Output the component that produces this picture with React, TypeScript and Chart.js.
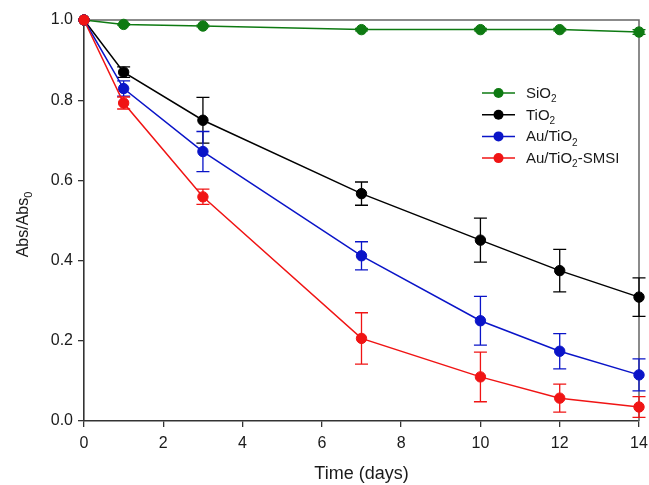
import React, { useEffect, useRef } from "react";
import { Chart, registerables } from "chart.js";

Chart.register(...registerables);

// Sampling days
const days = [0, 1, 3, 7, 10, 12, 14];

// Normalised absorbance (Abs/Abs0) per material
const sio2 = [1.0, 0.989, 0.985, 0.976, 0.976, 0.976, 0.97];
const tio2 = [1.0, 0.87, 0.75, 0.567, 0.451, 0.375, 0.309];
const auTio2 = [1.0, 0.829, 0.672, 0.412, 0.25, 0.174, 0.115];
const auTio2Smsi = [1.0, 0.793, 0.559, 0.206, 0.11, 0.057, 0.035];

// Standard deviations
const sio2Err = [0, 0.002, 0.002, 0.003, 0.003, 0.003, 0.006];
const tio2Err = [0, 0.013, 0.057, 0.029, 0.055, 0.053, 0.048];
const auTio2Err = [0, 0.019, 0.05, 0.035, 0.061, 0.044, 0.04];
const auTio2SmsiErr = [0, 0.015, 0.019, 0.064, 0.062, 0.035, 0.026];

// Legend labels: [main text, subscript, trailing text]
const legendLabels: [string, string, string][] = [
  ["SiO", "2", ""],
  ["TiO", "2", ""],
  ["Au/TiO", "2", ""],
  ["Au/TiO", "2", "-SMSI"],
];

const xTicks = [0, 2, 4, 6, 8, 10, 12, 14];
const yTicks = [0, 0.2, 0.4, 0.6, 0.8, 1.0];

const colors = ["#0e7a12", "#000000", "#0a14c8", "#f01414"];
const FONT = "'Liberation Sans', Arial, sans-serif";

const series = [sio2, tio2, auTio2, auTio2Smsi];
const errors = [sio2Err, tio2Err, auTio2Err, auTio2SmsiErr];

function drawSubText(
  ctx: CanvasRenderingContext2D,
  parts: [string, string, string],
  x: number,
  y: number,
  size: number,
  align: "left" | "center"
) {
  const [a, sub, b] = parts;
  const subSize = Math.round(size * 0.68);
  ctx.font = `${size}px ${FONT}`;
  const wa = ctx.measureText(a).width;
  const wb = ctx.measureText(b).width;
  ctx.font = `${subSize}px ${FONT}`;
  const ws = ctx.measureText(sub).width;
  const total = wa + ws + wb;
  let cx = align === "center" ? x - total / 2 : x;
  ctx.textAlign = "left";
  ctx.textBaseline = "alphabetic";
  ctx.font = `${size}px ${FONT}`;
  ctx.fillText(a, cx, y);
  cx += wa;
  ctx.font = `${subSize}px ${FONT}`;
  ctx.fillText(sub, cx, y + size * 0.28);
  cx += ws;
  ctx.font = `${size}px ${FONT}`;
  ctx.fillText(b, cx, y);
}

const decorPlugin = {
  id: "decor",
  beforeDatasetsDraw(chart: any) {
    const { ctx, chartArea } = chart;
    ctx.save();
    ctx.strokeStyle = "#666666";
    ctx.lineWidth = 1.5;
    ctx.beginPath();
    ctx.moveTo(chartArea.left, chartArea.top);
    ctx.lineTo(chartArea.right, chartArea.top);
    ctx.lineTo(chartArea.right, chartArea.bottom);
    ctx.stroke();
    ctx.restore();
  },
  beforeDatasetDraw(chart: any, args: any) {
    const i = args.index;
    const err = errors[i];
    if (!err) return;
    const { ctx, scales } = chart;
    const xs = scales.x;
    const ys = scales.y;
    ctx.save();
    ctx.strokeStyle = colors[i];
    ctx.lineWidth = 1.3;
    days.forEach((d, k) => {
      const e = err[k];
      if (!e) return;
      const px = xs.getPixelForValue(d);
      const yt = ys.getPixelForValue(series[i][k] + e);
      const yb = ys.getPixelForValue(series[i][k] - e);
      ctx.beginPath();
      ctx.moveTo(px, yt);
      ctx.lineTo(px, yb);
      ctx.moveTo(px - 6.5, yt);
      ctx.lineTo(px + 6.5, yt);
      ctx.moveTo(px - 6.5, yb);
      ctx.lineTo(px + 6.5, yb);
      ctx.stroke();
    });
    ctx.restore();
  },
  afterDraw(chart: any) {
    const { ctx, chartArea } = chart;
    ctx.save();
    ctx.fillStyle = "#1a1a1a";
    // x-axis title
    ctx.font = `18px ${FONT}`;
    ctx.textAlign = "center";
    ctx.textBaseline = "alphabetic";
    ctx.fillText("Time (days)", (chartArea.left + chartArea.right) / 2, 479);
    // y-axis title, rotated
    ctx.save();
    ctx.translate(28, (chartArea.top + chartArea.bottom) / 2 + 4);
    ctx.rotate(-Math.PI / 2);
    drawSubText(ctx, ["Abs/Abs", "0", ""], 0, 0, 16, "center");
    ctx.restore();
    // legend
    const lx0 = 482;
    const lx1 = 515;
    const tx = 526;
    legendLabels.forEach((lab, i) => {
      const y = 93 + i * 21.7;
      ctx.strokeStyle = colors[i];
      ctx.lineWidth = 1.5;
      ctx.beginPath();
      ctx.moveTo(lx0, y);
      ctx.lineTo(lx1, y);
      ctx.stroke();
      ctx.fillStyle = colors[i];
      ctx.beginPath();
      ctx.arc((lx0 + lx1) / 2, y, 5, 0, Math.PI * 2);
      ctx.fill();
      ctx.fillStyle = "#1a1a1a";
      drawSubText(ctx, lab, tx, y + 5, 15, "left");
    });
    ctx.restore();
  },
};

export default function App() {
  const ref = useRef<HTMLCanvasElement | null>(null);

  useEffect(() => {
    if (!ref.current) return;
    const names = ["SiO2", "TiO2", "Au/TiO2", "Au/TiO2-SMSI"];
    const chart = new Chart(ref.current, {
      type: "line",
      data: {
        datasets: series.map((s, i) => ({
          label: names[i],
          data: days.map((d, k) => ({ x: d, y: s[k] })),
          borderColor: colors[i],
          backgroundColor: colors[i],
          pointBackgroundColor: colors[i],
          pointBorderColor: colors[i],
          pointRadius: 5.2,
          pointBorderWidth: 1,
          borderWidth: 1.5,
          tension: 0,
          clip: false as any,
          order: 3 - i,
        })),
      },
      options: {
        responsive: false,
        animation: false,
        events: [],
        layout: { padding: { top: 20, right: 10, left: 0, bottom: 0 } },
        plugins: {
          legend: { display: false },
          tooltip: { enabled: false },
        },
        scales: {
          x: {
            type: "linear",
            min: 0,
            max: 14,
            afterBuildTicks: (s: any) => {
              s.ticks = xTicks.map((v) => ({ value: v }));
            },
            afterFit: (s: any) => {
              s.height = 64;
              s.paddingLeft = 0;
              s.paddingRight = 0;
            },
            ticks: {
              color: "#1a1a1a",
              font: { size: 16, family: FONT },
              padding: 7,
              maxRotation: 0,
              callback: (v: any) => String(v),
            },
            grid: {
              drawOnChartArea: false,
              drawTicks: true,
              tickLength: 6,
              color: "#333333",
              lineWidth: 1.3,
            },
            border: { display: true, color: "#333333", width: 1.6 },
          },
          y: {
            type: "linear",
            min: 0,
            max: 1,
            afterBuildTicks: (s: any) => {
              s.ticks = yTicks.map((v) => ({ value: v }));
            },
            afterFit: (s: any) => {
              s.width = 84;
              s.paddingTop = 0;
              s.paddingBottom = 0;
            },
            ticks: {
              color: "#1a1a1a",
              font: { size: 16, family: FONT },
              padding: 5,
              callback: (v: any) => Number(v).toFixed(1),
            },
            grid: {
              drawOnChartArea: false,
              drawTicks: true,
              tickLength: 6,
              color: "#333333",
              lineWidth: 1.3,
            },
            border: { display: true, color: "#333333", width: 1.6 },
          },
        },
      },
      plugins: [decorPlugin],
    });
    return () => chart.destroy();
  }, []);

  return (
    <div style={{ position: "fixed", left: 0, top: 0, width: 649, height: 485, background: "#fff" }}>
      <canvas ref={ref} width={649} height={485} style={{ display: "block" }} />
    </div>
  );
}
